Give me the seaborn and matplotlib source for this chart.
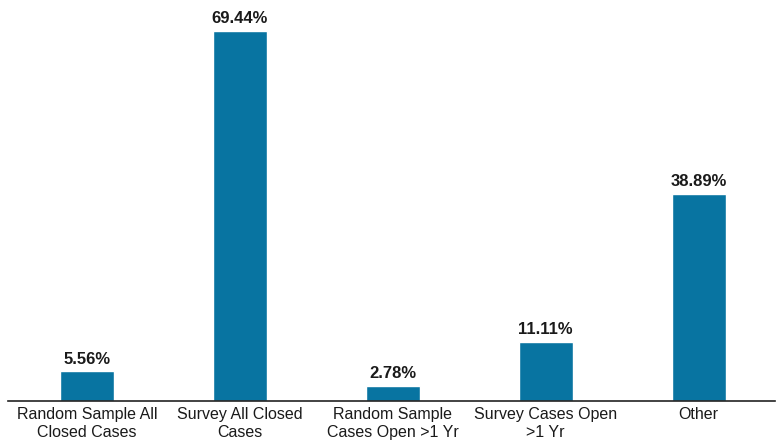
import matplotlib
matplotlib.use("Agg")
import matplotlib.pyplot as plt
import seaborn as sns
import pandas as pd

categories = ["Random Sample All\nClosed Cases", "Survey All Closed\nCases",
              "Random Sample\nCases Open >1 Yr", "Survey Cases Open\n>1 Yr", "Other"]
values = [5.56, 69.44, 2.78, 11.11, 38.89]
labels = ["5.56%", "69.44%", "2.78%", "11.11%", "38.89%"]

sns.set_theme(style="white")
plt.rcParams["font.family"] = ["Liberation Sans", "DejaVu Sans"]

df = pd.DataFrame({"category": categories, "value": values})

fig = plt.figure(figsize=(7.81, 4.42), dpi=100)
ax = fig.add_axes([8 / 781, 41 / 442, 767 / 781, 391 / 442])
sns.barplot(data=df, x="category", y="value", color="#0874A1", width=0.353,
            saturation=1, ax=ax)

for i, (v, t) in enumerate(zip(values, labels)):
    ax.text(i, v + 0.9, t, ha="center", va="bottom", fontsize=12,
            fontweight="bold", color="#1a1a1a")

ax.set_xlim(-0.516, 4.5)
ax.set_ylim(0, 73.4)
ax.set_xlabel("")
ax.set_ylabel("")
ax.set_yticks([])
ax.tick_params(axis="x", length=0, pad=4, labelsize=11.5, colors="#1a1a1a")
for lbl in ax.get_xticklabels():
    lbl.set_linespacing(1.25)
for s in ["top", "left", "right"]:
    ax.spines[s].set_visible(False)
ax.spines["bottom"].set_color("#222222")
ax.spines["bottom"].set_linewidth(1.2)

fig.savefig("out.png", dpi=100)
